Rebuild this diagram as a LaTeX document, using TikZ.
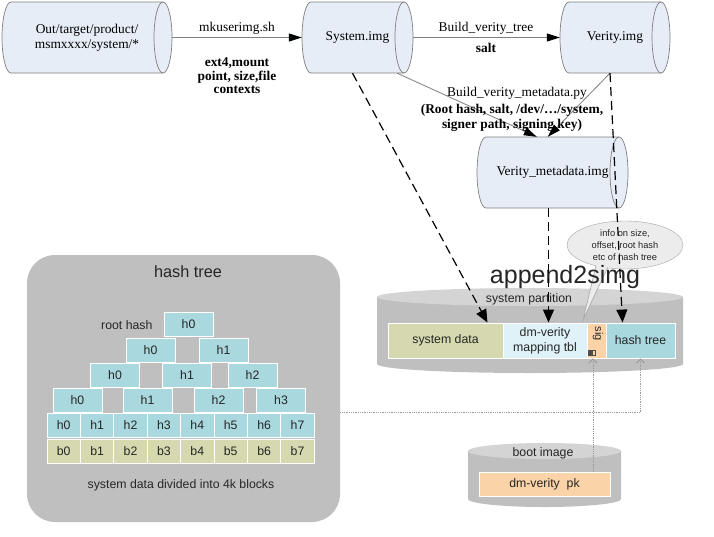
\documentclass[tikz,border=0pt]{standalone}
\usepackage{fontspec}
\setmainfont{Liberation Serif}
\newfontfamily\arialf{Liberation Sans}
\usetikzlibrary{arrows.meta,shapes.geometric}
\definecolor{cylfill}{HTML}{E6EDF6}
\definecolor{cylline}{HTML}{7F7F7F}
\definecolor{boxgray}{HTML}{BFBFBF}
\definecolor{topgray}{HTML}{D4D4D4}
\definecolor{olivec}{HTML}{D6D9AF}
\definecolor{dmc}{HTML}{DEF2F8}
\definecolor{sigc}{HTML}{FBD3A8}
\definecolor{bluec}{HTML}{A9D8DF}
\definecolor{callc}{HTML}{ECECEC}
\definecolor{dotc}{HTML}{9A9A9A}
\tikzset{
  cylshape/.style={draw=cylline, fill=cylfill, line width=0.7pt},
  toptext/.style={font=\fontsize{13.4}{15}\selectfont, align=center},
  boldtext/.style={font=\fontsize{13.4}{13.5}\selectfont\bfseries, align=center},
  flowline/.style={draw=cylline, line width=0.8pt, -{Triangle[length=13pt,width=8pt,color=black]}},
  dashline/.style={draw=black, line width=1.2pt, dash pattern=on 9pt off 5pt, -{Triangle[length=13pt,width=11pt,color=black]}},
  dotline/.style={draw=dotc, line width=0.8pt, densely dotted, -{Straight Barb[length=4pt,width=8pt]}},
  cell/.style={draw=white, line width=0.9pt, minimum height=24pt, inner sep=0pt, font=\arialf\fontsize{12.3}{14}\selectfont, text=black!85},
  bcell/.style={cell, fill=olivec, minimum width=33.4pt},
  hcell/.style={cell, fill=bluec, minimum width=33.4pt},
  tcell/.style={cell, fill=bluec, minimum width=49pt},
  partbox/.style={draw=white, line width=0.9pt, minimum height=35pt, inner sep=0pt, font=\arialf\fontsize{12.3}{15}\selectfont, align=center, text=black!85},
  sanstext/.style={font=\arialf\fontsize{12.3}{14}\selectfont, text=black!85}
}
\newcommand\hcyl[6]{%
  \draw[cylshape] ({#2+9},#3) -- ({#4-9},#3)
     arc[start angle=-90,end angle=90,x radius=9,y radius={(#5-#3)/2}]
     -- ({#2+9},#5)
     arc[start angle=90,end angle=270,x radius=9,y radius={(#5-#3)/2}] -- cycle;
  \draw[draw=cylline, line width=0.7pt] ({#4-9},#3)
     arc[start angle=-90,end angle=-270,x radius=9,y radius={(#5-#3)/2}];
  \node[toptext, inner sep=0pt, minimum width={#4-#2}, minimum height={#5-#3}] (#1) at ({(#2+#4)/2},{(#3+#5)/2}) {#6};
}
\newcommand\vcyl[5]{%
  \fill[boxgray] (#1,{#2+#5}) -- (#1,{#4-#5})
     arc[start angle=180,end angle=0,x radius={(#3-#1)/2},y radius=#5]
     -- (#3,{#2+#5}) -- cycle;
  \fill[topgray] ({(#1+#3)/2},{#2+#5}) ellipse[x radius={(#3-#1)/2}, y radius=#5];
}
\begin{document}
\begin{tikzpicture}[x=1pt,y=-1pt]
\useasboundingbox (0,0) rectangle (714,536);
\fill[white] (0,0) rectangle (714,536);

% top cylinders
\hcyl{src}{2}{2}{172}{73}{Out/target/product/\\msmxxxx/system/*}
\hcyl{sys}{302}{2}{413}{73}{System.img}
\hcyl{ver}{560}{2}{670}{73}{Verity.img}
\hcyl{meta}{477}{137}{628}{208}{Verity\_metadata.img}

% top connectors
\draw[flowline] (src.east) -- (sys.west);
\draw[flowline] (sys.east) -- (ver.west);
\node[toptext] (mklab) at (237,28) {mkuserimg.sh};
\node[boldtext] (mkbold) at (237,76) {ext4,mount\\point, size,file\\contexts};
\node[toptext] (bvtlab) at (486,28) {Build\_verity\_tree};
\node[boldtext] (saltlab) at (486,48) {salt};

\draw[flowline] ([xshift=-16pt]sys.south east) -- ([xshift=60pt]meta.north west);
\draw[flowline] ([xshift=-5pt]ver.south) -- ([xshift=71pt]meta.north west);
\node[toptext] (bvmlab) at (517,93) {Build\_verity\_metadata.py};
\node[boldtext, font=\fontsize{13.4}{15}\selectfont\bfseries] (bvmbold) at (512,117.5) {(Root hash, salt, /dev/…/system,\\signer path, signing key)};

% hash tree group
\node[fill=boxgray, draw=none, rounded corners=28pt, minimum width=313pt, minimum height=267pt, inner sep=0pt] (htgroup) at (183.5,388.5) {};
\node[font=\arialf\fontsize{16.3}{18}\selectfont, text=black!85] (httitle) at (188,272) {hash tree};
\node[sanstext, anchor=east] (roothash) at (156,325) {root hash};
\foreach \i in {0,...,7}{
  \node[bcell] (b\i) at ({63.7+33.4*\i},451) {b\i};
  \node[hcell] (h\i) at ({63.7+33.4*\i},425) {h\i};
}
\node[tcell] (r4a) at (77.5,400) {h0};
\node[tcell] (r4b) at (147.5,400) {h1};
\node[tcell] (r4c) at (218.5,400) {h2};
\node[tcell] (r4d) at (281,400) {h3};
\node[tcell] (r3a) at (115,375) {h0};
\node[tcell] (r3b) at (187,375) {h1};
\node[tcell] (r3c) at (252.5,375) {h2};
\node[tcell] (r2a) at (150.5,350) {h0};
\node[tcell] (r2b) at (223.5,350) {h1};
\node[tcell] (r1a) at (188.5,324.5) {h0};
\node[sanstext] (blocks) at (181,485) {system data divided into 4k blocks};

% system partition
\vcyl{377}{288}{683}{373}{9}
\node[sanstext] (parttitle) at (529,299) {system partition};
\node[partbox, fill=olivec, minimum width=115pt] (sd) at (445.5,340.5) {system data};
\node[partbox, fill=dmc, minimum width=84pt] (dm) at (545,340.5) {dm-verity\\mapping tbl};
\node[partbox, fill=sigc, minimum width=19pt] (sig) at (596.5,340.5) {};
\node[partbox, fill=bluec, minimum width=69pt] (ht) at (640.5,340.5) {hash tree};
\node[sanstext, rotate=-90, font=\arialf\fontsize{11}{12}\selectfont] (siglab) at (598,334) {sig};
\fill[black!70] (587.5,349.5) rectangle (592.5,356);
\draw[black!70, line width=1pt] (592.5,350.5) -- (595.5,350.5) -- (595.5,355) -- (592.5,355);

% boot image
\vcyl{468}{443}{621}{507}{8}
\node[sanstext] (bootlab) at (543,453) {boot image};
\node[partbox, fill=sigc, minimum width=131pt, minimum height=24pt] (pk) at (544.5,484) {dm-verity~ pk};

% callout
\node[ellipse, draw=gray!70, fill=callc, minimum width=116pt, minimum height=48pt, inner sep=0pt, align=center, font=\arialf\fontsize{9.3}{11.8}\selectfont, text=black!85] (callout) at (625,245) {info on size,\\offset, root hash\\etc of hash tree};
\coordinate (ctip) at (583,320);
\fill[callc] (596,264) -- (ctip) -- (607.5,266) -- cycle;
\draw[gray!70, line width=0.6pt] (596,265.8) -- (ctip) -- (607.5,267.8);
\node[font=\arialf\fontsize{25}{28}\selectfont, text=black!85] (append) at (565,277) {append2simg};

% dashed connectors
\draw[dashline] ([xshift=-5pt]sys.south) -- ([xshift=-16pt]sd.north east);
\draw[dashline] ([xshift=-4pt]meta.south) -- ([xshift=-4pt]meta.south |- dm.north);
\draw[dashline] ([xshift=-5pt]ver.south) -- ([xshift=-18pt]ht.north);

% dotted connectors
\draw[dotline] (htgroup.east |- h0.north) -| (ht.south);
\draw[dotline] ([xshift=-3.5pt]pk.north -| sig.south) -- ([xshift=-3.5pt]sig.south);
\end{tikzpicture}
\end{document}
